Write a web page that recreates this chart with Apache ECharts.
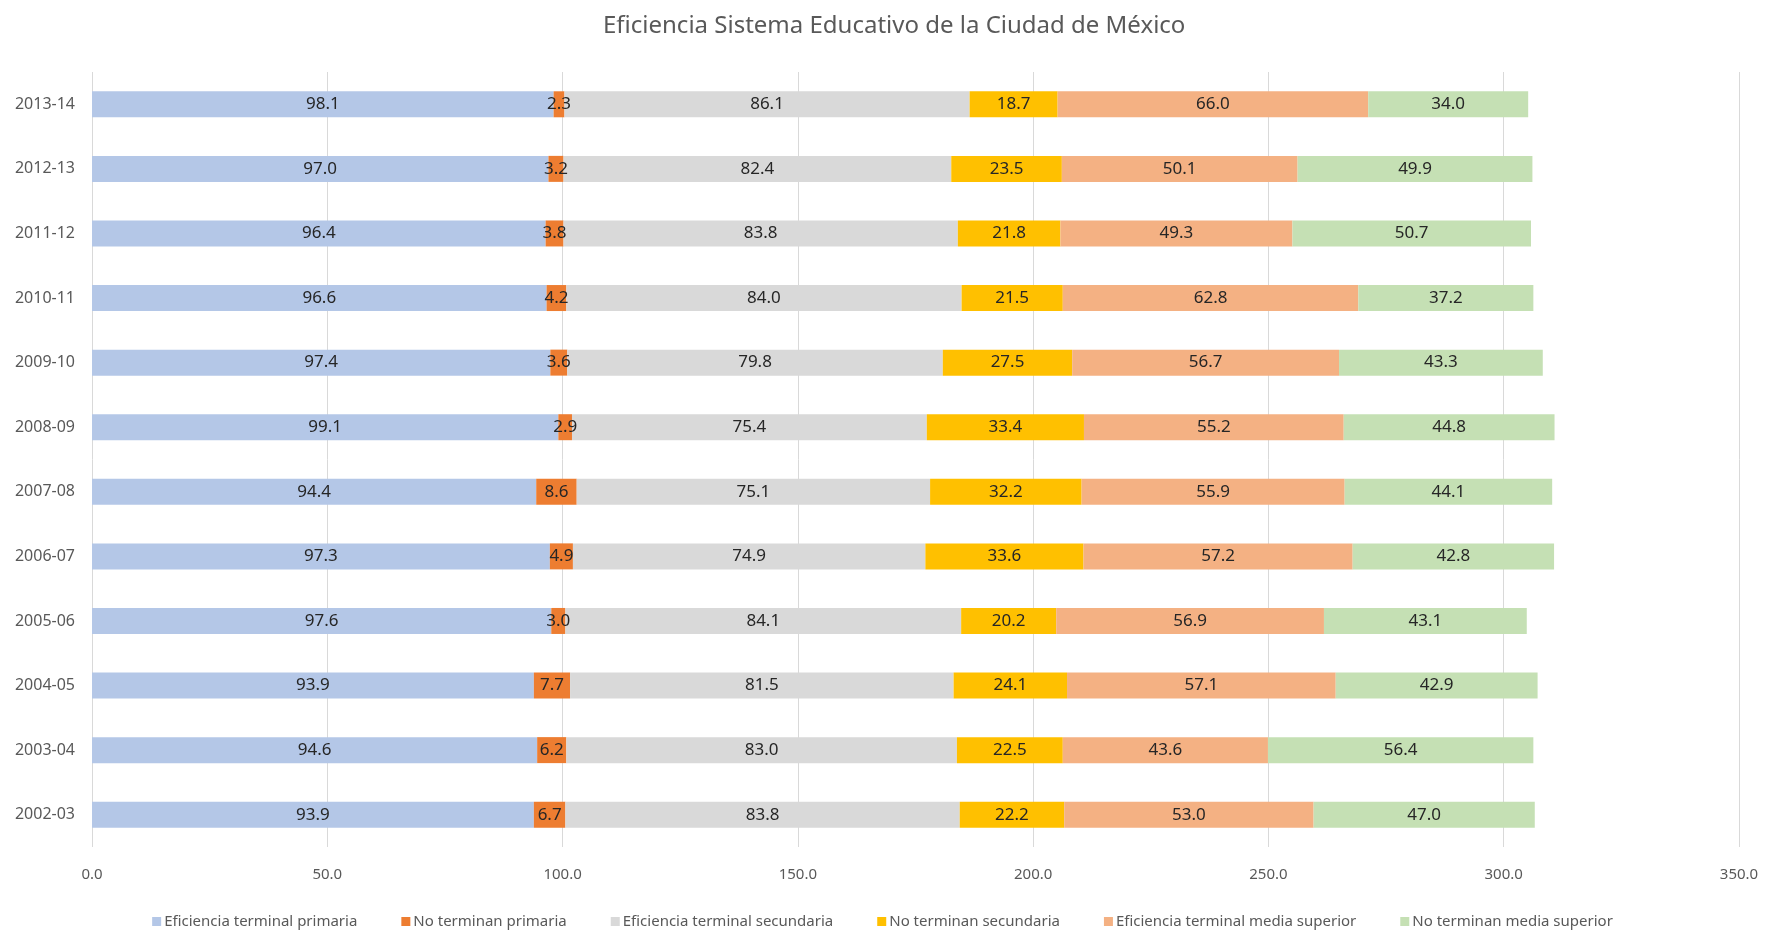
<!DOCTYPE html>
<html>
<head>
<meta charset="utf-8">
<title>Eficiencia Sistema Educativo</title>
<script src="https://cdn.jsdelivr.net/npm/echarts@6/dist/echarts.min.js"></script>
<style>
  html, body { margin: 0; padding: 0; background: #fff; }
  #chart { width: 1765px; height: 932px; }
</style>
</head>
<body>
<div id="chart"></div>
<script>
// ciclos escolares, de abajo hacia arriba
var ciclos = ['2002-03', '2003-04', '2004-05', '2005-06', '2006-07', '2007-08',
              '2008-09', '2009-10', '2010-11', '2011-12', '2012-13', '2013-14'];

var efPrimaria    = [93.9, 94.6, 93.9, 97.6, 97.3, 94.4, 99.1, 97.4, 96.6, 96.4, 97.0, 98.1];
var noPrimaria    = [6.7, 6.2, 7.7, 3.0, 4.9, 8.6, 2.9, 3.6, 4.2, 3.8, 3.2, 2.3];
var efSecundaria  = [83.8, 83.0, 81.5, 84.1, 74.9, 75.1, 75.4, 79.8, 84.0, 83.8, 82.4, 86.1];
var noSecundaria  = [22.2, 22.5, 24.1, 20.2, 33.6, 32.2, 33.4, 27.5, 21.5, 21.8, 23.5, 18.7];
var efMediaSup    = [53.0, 43.6, 57.1, 56.9, 57.2, 55.9, 55.2, 56.7, 62.8, 49.3, 50.1, 66.0];
var noMediaSup    = [47.0, 56.4, 42.9, 43.1, 42.8, 44.1, 44.8, 43.3, 37.2, 50.7, 49.9, 34.0];

var nombres = ['Eficiencia terminal primaria', 'No terminan primaria',
               'Eficiencia terminal secundaria', 'No terminan secundaria',
               'Eficiencia terminal media superior', 'No terminan media superior'];
var colores = ['#B4C7E7', '#ED7D31', '#D9D9D9', '#FFC000', '#F4B183', '#C5E0B4'];
var valores = [efPrimaria, noPrimaria, efSecundaria, noSecundaria, efMediaSup, noMediaSup];

var fuente = '"Noto Sans", "Open Sans", sans-serif';

var chart = echarts.init(document.getElementById('chart'));

var series = valores.map(function (data, i) {
  return {
    name: nombres[i],
    type: 'bar',
    stack: 'total',
    barWidth: 26,
    itemStyle: { color: colores[i] },
    label: {
      show: true,
      position: 'inside',
      color: '#262626',
      fontFamily: fuente,
      fontSize: 17,
      formatter: function (p) { return p.value.toFixed(1); }
    },
    emphasis: { disabled: true },
    data: data
  };
});

var option = {
  animation: false,
  backgroundColor: '#fff',
  title: {
    text: 'Eficiencia Sistema Educativo de la Ciudad de México',
    left: 598,
    top: 9,
    textStyle: {
      color: '#595959',
      fontFamily: fuente,
      fontSize: 24,
      fontWeight: 'normal'
    }
  },
  legend: {
    bottom: -2,
    left: 'center',
    itemWidth: 9,
    itemHeight: 9,
    itemGap: 44,
    icon: 'rect',
    textStyle: {
      color: '#595959',
      fontFamily: fuente,
      fontSize: 15,
      padding: [0, 0, 0, -2]
    },
    data: nombres
  },
  grid: {
    left: 92,
    right: 26,
    top: 72,
    bottom: 85,
    containLabel: false
  },
  xAxis: {
    type: 'value',
    min: 0,
    max: 350,
    interval: 50,
    axisLine: { show: false },
    axisTick: { show: false },
    axisLabel: {
      color: '#595959',
      fontFamily: fuente,
      fontSize: 15,
      margin: 20,
      formatter: function (v) { return v.toFixed(1); }
    },
    splitLine: { lineStyle: { color: '#D9D9D9', width: 1 } }
  },
  yAxis: {
    type: 'category',
    data: ciclos,
    axisLine: { show: false },
    axisTick: { show: false },
    axisLabel: {
      color: '#595959',
      fontFamily: fuente,
      fontSize: 16,
      margin: 17
    }
  },
  series: series
};

chart.setOption(option);
</script>
</body>
</html>
